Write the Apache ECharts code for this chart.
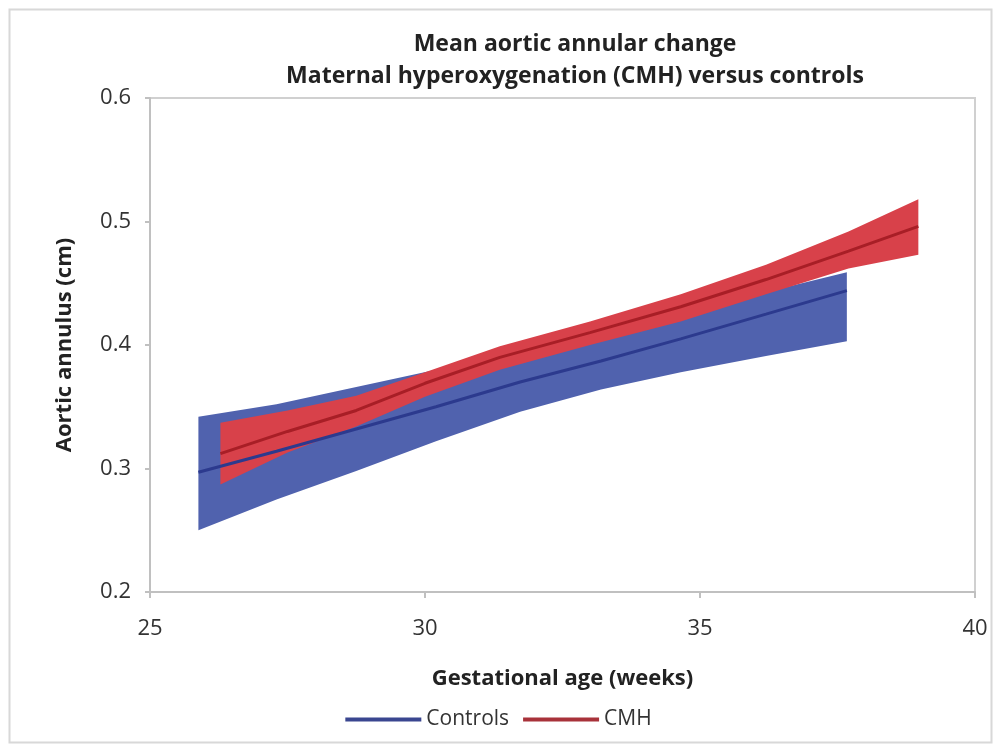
<!DOCTYPE html>
<html><head><meta charset="utf-8">
<script src="https://cdn.jsdelivr.net/npm/echarts@6/dist/echarts.min.js"></script>
<style>html,body{margin:0;padding:0;background:#fff}#c{width:997px;height:747px}</style>
</head><body><div id="c"></div>
<script>
const titleLines = ['Mean aortic annular change', 'Maternal hyperoxygenation (CMH) versus controls'];
const xName = 'Gestational age (weeks)';
const yName = 'Aortic annulus (cm)';
const seriesNames = ['Controls', 'CMH'];

const controlsWeeks = [25.88, 27.3, 28.75, 30.2, 31.73, 33.2, 34.65, 36.2, 37.67];
const controlsMean  = [0.297, 0.314, 0.332, 0.350, 0.370, 0.387, 0.405, 0.425, 0.444];
const controlsUpper = [0.342, 0.352, 0.366, 0.380, 0.395, 0.410, 0.428, 0.443, 0.459];
const controlsLower = [0.250, 0.275, 0.298, 0.322, 0.346, 0.364, 0.378, 0.391, 0.403];

const cmhWeeks = [26.28, 27.5, 28.75, 30.0, 31.36, 33.0, 34.65, 36.2, 37.7, 38.97];
const cmhMean  = [0.312, 0.330, 0.347, 0.369, 0.390, 0.410, 0.431, 0.453, 0.476, 0.496];
const cmhUpper = [0.337, 0.347, 0.359, 0.378, 0.399, 0.419, 0.441, 0.465, 0.492, 0.518];
const cmhLower = [0.287, 0.313, 0.334, 0.358, 0.380, 0.400, 0.419, 0.441, 0.462, 0.473];

const xTicks = [25, 30, 35, 40];
const yTicks = [0.2, 0.3, 0.4, 0.5, 0.6];

const FONT = 'Open Sans';
const chart = echarts.init(document.getElementById('c'), null, {renderer: 'canvas'});

function bandSeries(weeks, upper, lower, color) {
  const rows = weeks.map((w, i) => [w, upper[i], lower[i]]);
  return {
    type: 'custom',
    data: [0],
    silent: true,
    z: 1,
    renderItem: function (params, api) {
      const pts = [];
      rows.forEach(r => pts.push(api.coord([r[0], r[1]])));
      for (let i = rows.length - 1; i >= 0; i--) pts.push(api.coord([rows[i][0], rows[i][2]]));
      return {type: 'polygon', shape: {points: pts}, style: {fill: color}};
    }
  };
}

const option = {
  backgroundColor: '#fff',
  animation: false,
  title: {
    text: titleLines.join('\n'),
    left: 570, top: 23, textAlign: 'center',
    textStyle: {fontFamily: FONT, fontWeight: 'bold', fontSize: 23, color: '#222', lineHeight: 32}
  },
  grid: {left: 150, right: 22, top: 98, bottom: 155, show: true, borderColor: '#d0d0d0', borderWidth: 2},
  xAxis: {
    type: 'value', min: xTicks[0], max: xTicks[xTicks.length - 1], interval: 5,
    name: xName, nameLocation: 'middle', nameGap: 76,
    nameTextStyle: {fontFamily: FONT, fontWeight: 'bold', fontSize: 22, color: '#222'},
    axisLine: {lineStyle: {color: '#c0c0c0', width: 2}},
    axisTick: {show: true, length: 6, lineStyle: {color: '#c0c0c0', width: 2}},
    axisLabel: {fontFamily: FONT, fontSize: 22, color: '#333', margin: 26},
    splitLine: {show: false}
  },
  yAxis: {
    type: 'value', min: yTicks[0], max: yTicks[yTicks.length - 1], interval: 0.1,
    name: yName, nameLocation: 'middle', nameGap: 74, nameRotate: 90,
    nameTextStyle: {fontFamily: FONT, fontWeight: 'bold', fontSize: 22, color: '#222'},
    axisLine: {show: true, lineStyle: {color: '#c0c0c0', width: 2}},
    axisTick: {show: true, length: 5, lineStyle: {color: '#c0c0c0', width: 2}},
    axisLabel: {fontFamily: FONT, fontSize: 22, color: '#333', margin: 19,
      formatter: v => v.toFixed(1)},
    splitLine: {show: false}
  },
  legend: {
    bottom: 12, left: 'center',
    itemWidth: 76, itemHeight: 4, itemGap: 14,
    icon: 'rect',
    textStyle: {fontFamily: FONT, fontSize: 21, color: '#333'},
    data: seriesNames
  },
  series: [
    bandSeries(controlsWeeks, controlsUpper, controlsLower, '#5062ae'),
    bandSeries(cmhWeeks, cmhUpper, cmhLower, '#d8414a'),
    {
      name: seriesNames[0], type: 'line', z: 5, symbol: 'none',
      data: controlsWeeks.map((w, i) => [w, controlsMean[i]]),
      lineStyle: {color: '#2c3a8e', width: 3}, itemStyle: {color: '#3a4690'}
    },
    {
      name: seriesNames[1], type: 'line', z: 6, symbol: 'none',
      data: cmhWeeks.map((w, i) => [w, cmhMean[i]]),
      lineStyle: {color: '#a81e26', width: 3}, itemStyle: {color: '#a8323a'}
    }
  ],
  graphic: [{
    type: 'rect', left: 7, top: 7, z: -1, silent: true,
    shape: {width: 982, height: 733},
    style: {fill: 'none', stroke: '#d8d8d8', lineWidth: 2}
  }]
};
chart.setOption(option);
</script>
</body></html>
